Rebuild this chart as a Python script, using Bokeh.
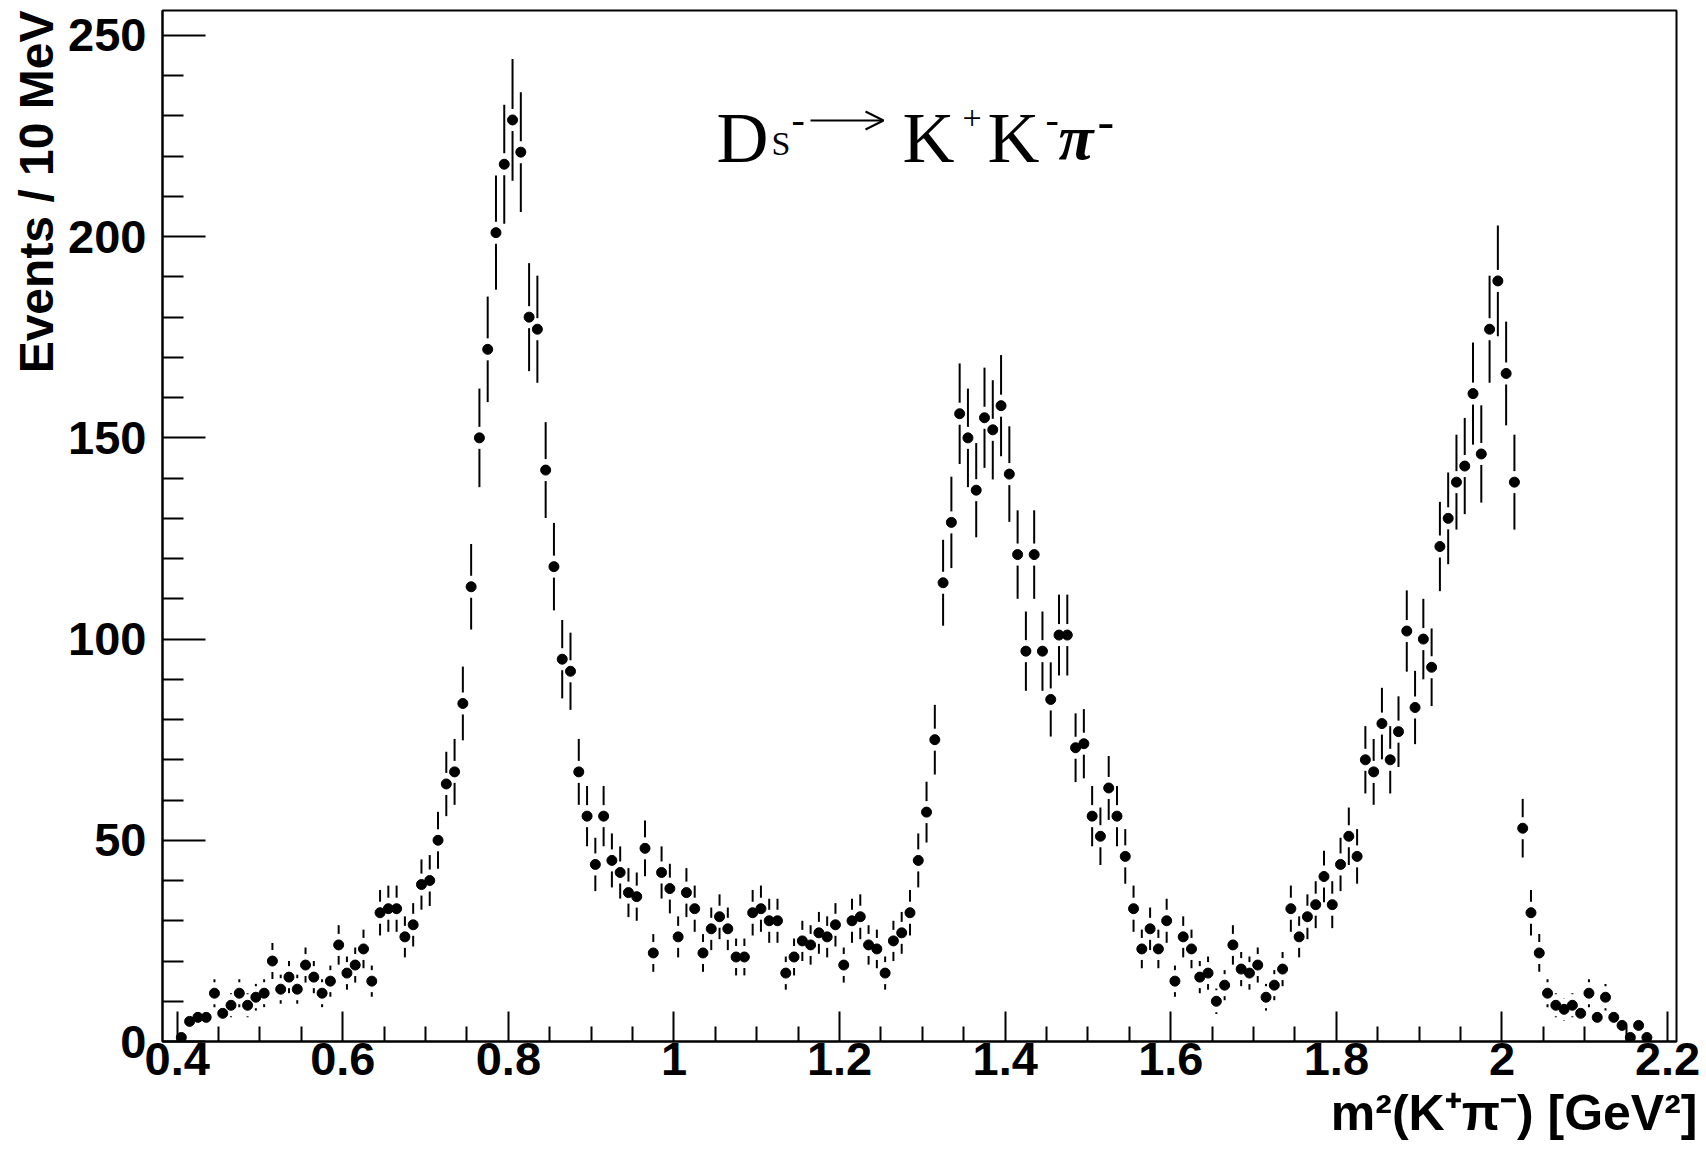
import numpy as np
from bokeh.plotting import figure
from bokeh.models import Label, FixedTicker, Range1d, ColumnDataSource, Arrow, OpenHead, Title
from bokeh.embed import file_html
from bokeh.resources import INLINE

# ---------------- data (10 MeV bins starting at 0.40 GeV^2) ----------------
bin_start = 0.40
bin_width = 0.01
counts = [
    1, 5, 6, 6, 12, 7, 9, 12, 9, 11,            # 0.40-0.49
    12, 20, 13, 16, 13, 19, 16, 12, 15, 24,     # 0.50-0.59
    17, 19, 23, 15, 32, 33, 33, 26, 29, 39,     # 0.60-0.69
    40, 50, 64, 67, 84, 113, 150, 172, 201, 218,  # 0.70-0.79
    229, 221, 180, 177, 142, 118, 95, 92, 67, 56,  # 0.80-0.89
    44, 56, 45, 42, 37, 36, 48, 22, 42, 38,     # 0.90-0.99
    26, 37, 33, 22, 28, 31, 28, 21, 21, 32,     # 1.00-1.09
    33, 30, 30, 17, 21, 25, 24, 27, 26, 29,     # 1.10-1.19
    19, 30, 31, 24, 23, 17, 25, 27, 32, 45,     # 1.20-1.29
    57, 75, 114, 129, 156, 150, 137, 155, 152, 158,  # 1.30-1.39
    141, 121, 97, 121, 97, 85, 101, 101, 73, 74,  # 1.40-1.49
    56, 51, 63, 56, 46, 33, 23, 28, 23, 30,     # 1.50-1.59
    15, 26, 23, 16, 17, 10, 14, 24, 18, 17,     # 1.60-1.69
    19, 11, 14, 18, 33, 26, 31, 34, 41, 34,     # 1.70-1.79
    44, 51, 46, 70, 67, 79, 70, 77, 102, 83,    # 1.80-1.89
    100, 93, 123, 130, 139, 143, 161, 146, 177, 189,  # 1.90-1.99
    166, 139, 53, 32, 22, 12, 9, 8, 9, 7,       # 2.00-2.09
    12, 6, 11, 6, 4, 1, 4, 1,                   # 2.10-2.17
]

x_ticks = [0.4, 0.6, 0.8, 1.0, 1.2, 1.4, 1.6, 1.8, 2.0, 2.2]
x_tick_labels = ["0.4", "0.6", "0.8", "1", "1.2", "1.4", "1.6", "1.8", "2", "2.2"]
y_ticks = [0, 50, 100, 150, 200, 250]
y_tick_labels = ["0", "50", "100", "150", "200", "250"]
x_title = "m²(K⁺π⁻) [GeV²]"
y_title = "Events / 10 MeV"

# ---------------- layout constants ----------------
W, H = 1706, 1149
BL, BR, BT, BB = 162, 30, 10, 108
FW = W - BL - BR
FH = H - BT - BB
X0, X1 = 0.38225, 2.21075
Y0, Y1 = 0.0, 256.2
XS = FW / (X1 - X0)
YS = FH / (Y1 - Y0)
FRAME_LEFT = BL
FRAME_BOTTOM = BT + FH


def xd(px):
    return X0 + (px - FRAME_LEFT) / XS


def yd(py):
    return Y0 + (FRAME_BOTTOM - py) / YS


# ---------------- derived arrays ----------------
cnt = np.array(counts, dtype=float)
xc = bin_start + bin_width * (np.arange(len(cnt)) + 0.5)
err = np.sqrt(cnt)
gap = 11.0 / YS
has = err > gap
up = ColumnDataSource(dict(x=xc[has], y0=(cnt + gap)[has], y1=(cnt + err)[has]))
dn = ColumnDataSource(dict(x=xc[has], y0=(cnt - err)[has], y1=(cnt - gap)[has]))
pts = ColumnDataSource(dict(x=xc, y=cnt))

p = figure(width=W, height=H, x_range=Range1d(X0, X1), y_range=Range1d(Y0, Y1),
           output_backend="svg", toolbar_location=None, title=None,
           min_border_left=BL, min_border_right=BR, min_border_top=BT, min_border_bottom=BB)
p.xgrid.visible = False
p.ygrid.visible = False
p.outline_line_color = "black"
p.outline_line_width = 2
p.outline_line_alpha = 1.0
p.background_fill_color = "white"
p.border_fill_color = "white"

p.segment(x0="x", y0="y0", x1="x", y1="y1", source=up, line_color="black", line_width=2)
p.segment(x0="x", y0="y0", x1="x", y1="y1", source=dn, line_color="black", line_width=2)
p.scatter(x="x", y="y", source=pts, size=10, marker="circle", fill_color="black", line_color="black")

x_minor = [round(v, 2) for v in np.arange(0.40, 2.2001, 0.05) if round(v, 2) not in x_ticks]
y_minor = [v for v in range(0, 257, 10) if v not in y_ticks]

xa = p.xaxis[0]
ya = p.yaxis[0]
xa.ticker = FixedTicker(ticks=x_ticks, minor_ticks=x_minor)
ya.ticker = FixedTicker(ticks=y_ticks, minor_ticks=y_minor)
xa.major_label_overrides = {t: l for t, l in zip(x_ticks, x_tick_labels)}
ya.major_label_overrides = {t: l for t, l in zip(y_ticks, y_tick_labels)}
for ax in (xa, ya):
    ax.axis_label = None
    ax.axis_line_width = 2
    ax.axis_line_color = "black"
    ax.major_tick_line_width = 2
    ax.minor_tick_line_width = 2
    ax.major_tick_line_color = "black"
    ax.minor_tick_line_color = "black"
    ax.major_tick_out = 0
    ax.minor_tick_out = 0
    ax.major_label_text_font = "Liberation Sans"
    ax.major_label_text_font_style = "bold"
    ax.major_label_text_font_size = "47px"
    ax.major_label_text_color = "black"
xa.major_tick_in = 30
xa.minor_tick_in = 15
xa.major_label_standoff = 1
ya.major_tick_in = 43
ya.minor_tick_in = 21
ya.major_label_standoff = 16

# axis titles as side-panel titles (aligned at the axis ends, as in the original)
p.add_layout(Title(text=y_title, align="right", offset=0, standoff=6,
                   text_font="Liberation Sans", text_font_style="bold",
                   text_font_size="48px", text_color="black"), "left")
p.add_layout(Title(text=x_title, align="right", offset=-21, standoff=11,
                   text_font="Liberation Sans", text_font_style="bold",
                   text_font_size="50px", text_color="black"), "below")


def lab(text, px, py, size, font="Liberation Serif", style="normal"):
    p.add_layout(Label(x=xd(px), y=yd(py), text=text, text_font=font,
                       text_font_size=f"{size}px", text_font_style=style,
                       text_align="left", text_baseline="alphabetic",
                       text_color="black"))


# decay annotation  Ds^- -> K^+ K^- pi^-
mb = 137
lab("D", 716, mb, 72)
lab("S", 771, mb + 6, 34)
lab("-", 791, 119, 40)
p.add_layout(Arrow(x_start=xd(810), y_start=yd(120), x_end=xd(883), y_end=yd(120),
                   line_color="black", line_width=2,
                   end=OpenHead(size=18, line_width=2, line_color="black")))
lab("K", 902, mb, 72)
lab("+", 962, 117, 34)
lab("K", 987, mb, 72)
lab("-", 1045, 119, 40)
lab("π", 1058, mb, 64, style="bold italic")
lab("-", 1097, 121, 50)

open("out.html", "w").write(file_html(p, INLINE))
